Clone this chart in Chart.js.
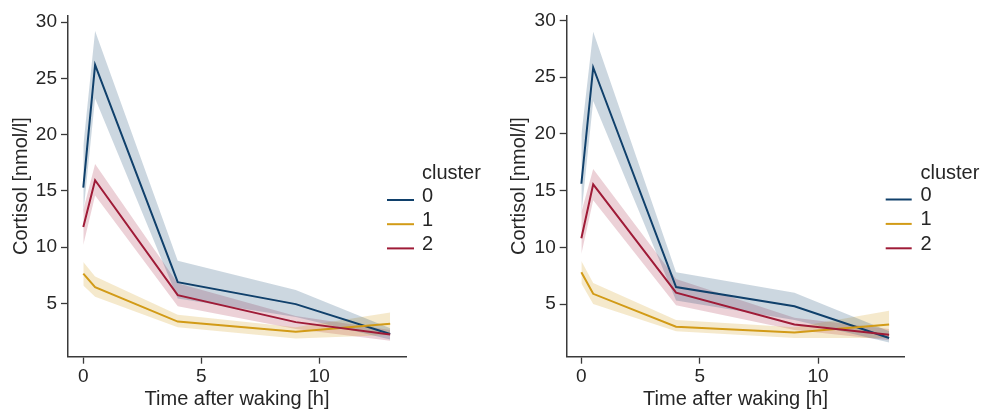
<!DOCTYPE html>
<html>
<head>
<meta charset="utf-8">
<script src="https://cdn.jsdelivr.net/npm/chart.js@4/dist/chart.umd.min.js"></script>
<style>
  html, body { margin: 0; padding: 0; background: #ffffff; }
  #wrap { position: relative; width: 984px; height: 412px; overflow: hidden; }
  canvas { position: absolute; top: 0; }
</style>
</head>
<body>
<div id="wrap">
  <canvas id="left" width="490" height="412" style="left:0px"></canvas>
  <canvas id="right" width="494" height="412" style="left:490px"></canvas>
</div>
<script>
// Sampling times (hours after waking)
const times = [0, 0.5, 4, 9, 13];
const clusters = ['0', '1', '2'];
const xTicks = [0, 5, 10];
const yTicks = [5, 10, 15, 20, 25, 30];

// Left panel: mean cortisol and confidence band per cluster
const leftMean0 = [15.3, 26.2, 6.9, 4.95, 2.3];
const leftLow0  = [13.0, 23.2, 5.45, 3.8, 1.8];
const leftHigh0 = [19.0, 29.2, 8.8, 6.2, 2.8];
const leftMean1 = [7.65, 6.45, 3.4, 2.5, 3.2];
const leftLow1  = [6.6, 5.6, 2.9, 1.9, 2.2];
const leftHigh1 = [8.7, 7.4, 4.0, 2.9, 4.2];
const leftMean2 = [11.8, 15.95, 5.75, 3.35, 2.25];
const leftLow2  = [10.2, 14.6, 4.75, 2.75, 1.7];
const leftHigh2 = [13.3, 17.4, 6.8, 3.9, 2.65];

// Right panel
const rightMean0 = [15.6, 25.85, 6.5, 4.8, 2.0];
const rightLow0  = [12.9, 22.9, 5.3, 3.6, 1.6];
const rightHigh0 = [19.9, 29.0, 7.8, 6.0, 2.6];
const rightMean1 = [7.8, 5.9, 3.0, 2.5, 3.2];
const rightLow1  = [6.8, 5.0, 2.6, 2.0, 2.0];
const rightHigh1 = [8.8, 6.85, 3.6, 2.95, 4.4];
const rightMean2 = [10.8, 15.55, 6.0, 3.2, 2.3];
const rightLow2  = [9.4, 14.15, 4.9, 2.7, 1.8];
const rightHigh2 = [13.1, 16.9, 7.2, 3.8, 2.8];

const lineColors = ['#10406b', '#d29b17', '#9f1b37'];
const bandColors = ['rgba(16,64,107,0.21)', 'rgba(210,155,23,0.22)', 'rgba(159,27,55,0.20)'];

const FONT = "'Liberation Sans', Arial, sans-serif";
const TEXT = '#262626';
const AXIS = '#3a3a3a';

const pts = arr => arr.map((v, i) => ({ x: times[i], y: v }));

// Draws the "cluster" legend beside each panel from the mean-line datasets
const clusterLegend = {
  id: 'clusterLegend',
  afterDraw(chart, args, opts) {
    const ctx = chart.ctx;
    ctx.save();
    ctx.font = '20px ' + FONT;
    ctx.fillStyle = TEXT;
    ctx.textBaseline = 'middle';
    ctx.textAlign = 'left';
    ctx.fillText(opts.title, opts.textX, opts.titleY);
    const means = chart.data.datasets.filter(d => d.isMean);
    means.forEach((d, i) => {
      const ly = opts.firstY + i * opts.step;
      ctx.strokeStyle = d.borderColor;
      ctx.lineWidth = 2;
      ctx.beginPath();
      ctx.moveTo(opts.lineX0, ly);
      ctx.lineTo(opts.lineX1, ly);
      ctx.stroke();
      ctx.fillText(d.label, opts.textX, ly - 4);
    });
    ctx.restore();
  }
};

function makePanel(id, means, lows, highs, g) {
  const datasets = [];
  clusters.forEach((c, k) => {
    datasets.push({
      label: 'lo' + c, data: pts(lows[k]), borderWidth: 0, pointRadius: 0,
      fill: false, order: 10 + k
    });
    datasets.push({
      label: 'hi' + c, data: pts(highs[k]), borderWidth: 0, pointRadius: 0,
      fill: '-1', backgroundColor: bandColors[k], order: 10 + k
    });
  });
  clusters.forEach((c, k) => {
    datasets.push({
      label: c, isMean: true, data: pts(means[k]), borderColor: lineColors[k],
      borderWidth: 2, pointRadius: 0, fill: false, tension: 0, order: 3 - k
    });
  });

  const tickStyle = { color: TEXT, font: { family: FONT, size: 19 } };
  const gridStyle = { display: true, drawOnChartArea: false, drawTicks: true,
                      tickLength: 7, tickWidth: 1.3, tickColor: AXIS };
  const borderStyle = { display: true, color: AXIS, width: 1.5 };

  return new Chart(document.getElementById(id), {
    type: 'line',
    data: { datasets },
    options: {
      responsive: false,
      animation: false,
      devicePixelRatio: 1,
      layout: { padding: { left: 0, top: g.top, right: g.right, bottom: 0 } },
      plugins: {
        legend: { display: false },
        tooltip: { enabled: false },
        clusterLegend: g.legend
      },
      scales: {
        x: {
          type: 'linear', min: g.xMin, max: g.xMax,
          afterBuildTicks: s => { s.ticks = xTicks.map(v => ({ value: v })); },
          afterFit: s => { s.height = g.xHeight; },
          ticks: { ...tickStyle, padding: 2, maxRotation: 0 },
          grid: gridStyle, border: borderStyle,
          title: { display: true, text: 'Time after waking [h]', color: TEXT,
                   font: { family: FONT, size: 20 }, padding: { top: 0, bottom: 1 } }
        },
        y: {
          type: 'linear', min: g.yMin, max: g.yMax,
          afterBuildTicks: s => { s.ticks = yTicks.map(v => ({ value: v })); },
          afterFit: s => { s.width = g.yWidth; },
          ticks: { ...tickStyle, padding: 4 },
          grid: gridStyle, border: borderStyle,
          title: { display: true, text: 'Cortisol [nmol/l]', color: TEXT,
                   font: { family: FONT, size: 20 }, padding: { top: g.yTitlePad, bottom: 0 } }
        }
      }
    },
    plugins: [clusterLegend]
  });
}

makePanel('left',
  [leftMean0, leftMean1, leftMean2],
  [leftLow0, leftLow1, leftLow2],
  [leftHigh0, leftHigh1, leftHigh2],
  { top: 13.3, right: 84, yWidth: 68, xHeight: 55.3, yTitlePad: 9,
    xMin: -0.648, xMax: 13.67, yMin: 0.28, yMax: 30.59,
    legend: { title: 'cluster', textX: 422, titleY: 173, lineX0: 387, lineX1: 414,
              firstY: 200, step: 24.2 } });

makePanel('right',
  [rightMean0, rightMean1, rightMean2],
  [rightLow0, rightLow1, rightLow2],
  [rightHigh0, rightHigh1, rightHigh2],
  { top: 13.3, right: 79.7, yWidth: 76.7, xHeight: 55.3, yTitlePad: 17,
    xMin: -0.619, xMax: 13.64, yMin: 0.357, yMax: 30.44,
    legend: { title: 'cluster', textX: 430.5, titleY: 173, lineX0: 395.7, lineX1: 421.7,
              firstY: 199.5, step: 24.4 } });
</script>
</body>
</html>
